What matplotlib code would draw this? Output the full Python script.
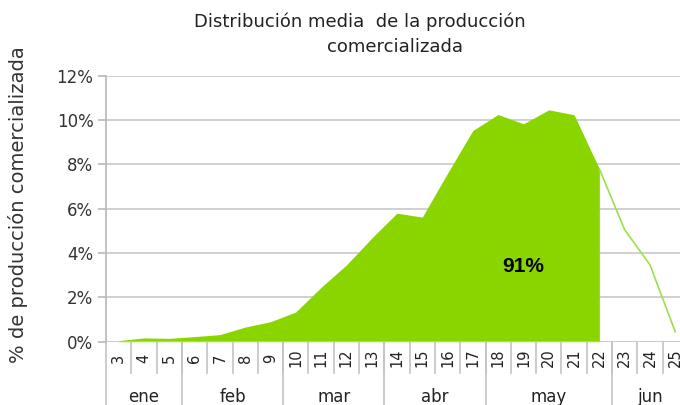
import matplotlib
matplotlib.use("Agg")
import matplotlib.pyplot as plt
from matplotlib.transforms import blended_transform_factory

weeks = [3, 4, 5, 6, 7, 8, 9, 10, 11, 12, 13, 14, 15, 16, 17, 18, 19, 20, 21, 22, 23, 24, 25]
values = [0.05, 0.17, 0.15, 0.23, 0.32, 0.66, 0.9, 1.34, 2.45, 3.46, 4.67, 5.8, 5.62, 7.6, 9.53,
          10.25, 9.83, 10.46, 10.24, 7.8, 5.05, 3.47, 0.45]
filled_until = 22
months = ["ene", "feb", "mar", "abr", "may", "jun"]
month_weeks = [[3, 4, 5], [6, 7, 8, 9], [10, 11, 12, 13], [14, 15, 16, 17], [18, 19, 20, 21, 22], [23, 24, 25]]
yticks = [0, 2, 4, 6, 8, 10, 12]
title_line1 = "Distribución media  de la producción"
title_line2 = "comercializada"
ylabel = "% de producción comercializada"
share_label = "91%"
share_week = 19
share_y = 3.38

W, H = 680, 405
fig = plt.figure(figsize=(W / 100, H / 100), dpi=100)
left, right, bottom_px, top_px = 106, 106 + 23 * 25.3, 341.7, 75.7
ax = fig.add_axes([left / W, 1 - bottom_px / H, (right - left) / W, (bottom_px - top_px) / H])
ax.set_xlim(weeks[0] - 0.5, weeks[-1] + 0.5)
ax.set_ylim(0, 12)

green = "#8ad500"
fx = [w for w in weeks if w <= filled_until]
fy = values[:len(fx)]
ax.fill_between(fx, fy, 0, color=green, linewidth=0, zorder=3)
ax.plot(weeks[len(fx) - 1:], values[len(fx) - 1:], color="#9be04a", lw=1.2, zorder=3)

for y in yticks[1:]:
    ax.axhline(y, color="#c4c4c4", lw=1.1, zorder=1)

for s in ["top", "right", "bottom"]:
    ax.spines[s].set_visible(False)
ax.spines["left"].set_color("#b8b8b8")
ax.spines["left"].set_linewidth(1.2)
ax.set_yticks(yticks)
ax.set_yticklabels([f"{v}%" for v in yticks], fontsize=12, color="#333333", family="DejaVu Sans")
ax.tick_params(axis="y", length=6, color="#b8b8b8", width=1.2, pad=3)
ax.set_xticks([])

ax.axhline(0, color="#c4c4c4", lw=1.2, zorder=4)

tr = blended_transform_factory(ax.transData, ax.transAxes)
hpx = bottom_px - top_px
for i, w in enumerate(weeks):
    ax.text(w, -(358 - bottom_px) / hpx, str(w), rotation=90, ha="center", va="center",
            fontsize=10.5, color="#222222", transform=tr, clip_on=False)
    ax.plot([w + 0.5, w + 0.5], [0, -31 / hpx], color="#c4c4c4", lw=1.2, transform=tr, clip_on=False)

ax.plot([weeks[0] - 0.5] * 2, [0, -64 / hpx], color="#c4c4c4", lw=1.2, transform=tr, clip_on=False)
for m, ws in zip(months, month_weeks):
    ax.plot([ws[-1] + 0.5] * 2, [0, -64 / hpx], color="#c4c4c4", lw=1.2, transform=tr, clip_on=False)
    ax.text((ws[0] + ws[-1]) / 2, -(397 - bottom_px) / hpx, m, ha="center", va="center",
            fontsize=12, color="#222222", transform=tr, clip_on=False)

ax.text(share_week, share_y, share_label, ha="center", va="center", fontsize=15,
        fontweight="bold", family="Liberation Sans", color="black", zorder=5)

fig.text(360 / W, 1 - 22 / H, title_line1, ha="center", va="center", fontsize=13, color="#222222")
fig.text(395 / W, 1 - 47 / H, title_line2, ha="center", va="center", fontsize=13, color="#222222")
fig.text(18 / W, 1 - 205 / H, ylabel, rotation=90, ha="center", va="center", fontsize=14, color="#333333")

fig.savefig("out.png", dpi=100)
